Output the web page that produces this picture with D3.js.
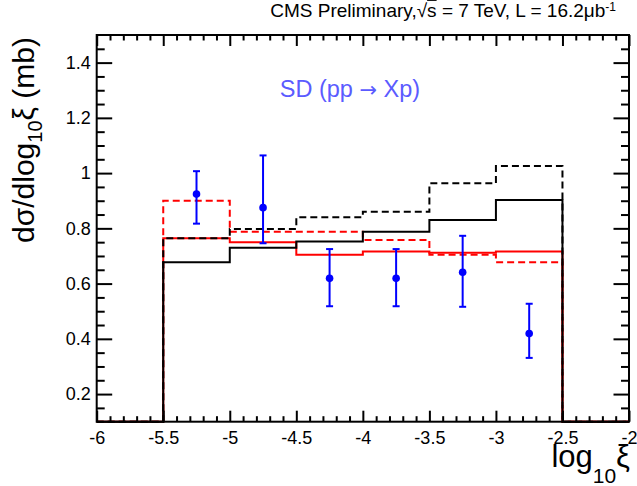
<!DOCTYPE html>
<html>
<head>
<meta charset="utf-8">
<script src="https://cdn.jsdelivr.net/npm/d3@7"></script>
<style>
  body { margin: 0; background: #fff; }
  svg text { font-family: "Liberation Sans", Arial, Helvetica, sans-serif; }
</style>
</head>
<body>
<div id="chart"></div>
<script>
// bins in log10(xi)
var binEdges = [-6, -5.5, -5, -4.5, -4, -3.5, -3, -2.5, -2];
// histogram contents per bin (outer bins empty)
var blackSolid  = [0, 0.677, 0.730, 0.752, 0.788, 0.830, 0.903, 0];
var blackDashed = [0, 0.764, 0.798, 0.840, 0.860, 0.963, 1.026, 0];
var redSolid    = [0, 0.764, 0.750, 0.704, 0.716, 0.712, 0.716, 0];
var redDashed   = [0, 0.900, 0.788, 0.788, 0.758, 0.704, 0.677, 0];
// data points
var dataX    = [-5.25, -4.75, -4.25, -3.75, -3.25, -2.75];
var dataY    = [0.924, 0.875, 0.619, 0.619, 0.641, 0.419];
var dataYlo  = [0.817, 0.746, 0.518, 0.518, 0.516, 0.331];
var dataYhi  = [1.007, 1.064, 0.725, 0.725, 0.773, 0.527];
// ticks
var xMajor = [-6, -5.5, -5, -4.5, -4, -3.5, -3, -2.5, -2];
var xMinor = d3.range(-60, -19, 1).map(function (d) { return d / 10; })
    .filter(function (d) { return Math.abs(d * 2 - Math.round(d * 2)) > 1e-6; });
var yMajor = [0.2, 0.4, 0.6, 0.8, 1, 1.2, 1.4];
var yMinor = d3.range(3, 30, 1).map(function (d) { return d / 20; })
    .filter(function (d) { return Math.abs(d * 5 - Math.round(d * 5)) > 1e-6; });

var W = 637, H = 486;
var m = { left: 96.7, right: 629, top: 35, bottom: 421.7 };

var svg = d3.select('#chart').append('svg')
    .attr('width', W).attr('height', H);

var x = d3.scaleLinear().domain([-6, -2]).range([m.left, m.right]);
var y = d3.scaleLinear().domain([0.1, 1.5]).range([m.bottom, m.top]).clamp(true);

var fmt = function (d) { return String(Math.round(d * 100) / 100); };

// histograms
function histPts(vals) {
    var pts = vals.map(function (v, i) { return [binEdges[i], v]; });
    pts.push([binEdges[binEdges.length - 1], vals[vals.length - 1]]);
    return pts;
}
var stepLine = d3.line()
    .x(function (d) { return x(d[0]); })
    .y(function (d) { return y(d[1]); })
    .curve(d3.curveStepAfter);

var hists = [
    { vals: redSolid, color: '#ff0000', dash: null },
    { vals: redDashed, color: '#ff0000', dash: '7,4' },
    { vals: blackSolid, color: '#000000', dash: null },
    { vals: blackDashed, color: '#000000', dash: '7,4' }
];
hists.forEach(function (h) {
    svg.append('path')
        .attr('d', stepLine(histPts(h.vals)))
        .attr('fill', 'none')
        .attr('stroke', h.color)
        .attr('stroke-width', 2)
        .attr('stroke-dasharray', h.dash);
});

// axes (ROOT style, ticks inward)
function styleAxis(g) {
    g.select('.domain').remove();
    g.selectAll('.tick line').attr('stroke', '#000').attr('stroke-width', 2);
    g.selectAll('.tick text').attr('fill', '#000').style('font-size', '18px');
}
svg.append('g').attr('transform', 'translate(0,' + m.bottom + ')')
    .call(d3.axisBottom(x).tickValues(xMajor).tickSize(-11).tickPadding(10).tickFormat(fmt))
    .call(styleAxis);
svg.append('g').attr('transform', 'translate(0,' + m.bottom + ')')
    .call(d3.axisBottom(x).tickValues(xMinor).tickSize(-5.5).tickFormat(''))
    .call(styleAxis);
svg.append('g').attr('transform', 'translate(0,' + m.top + ')')
    .call(d3.axisTop(x).tickValues(xMajor).tickSize(-11).tickFormat(''))
    .call(styleAxis);
svg.append('g').attr('transform', 'translate(0,' + m.top + ')')
    .call(d3.axisTop(x).tickValues(xMinor).tickSize(-5.5).tickFormat(''))
    .call(styleAxis);
svg.append('g').attr('transform', 'translate(' + m.left + ',0)')
    .call(d3.axisLeft(y).tickValues(yMajor).tickSize(-15.5).tickPadding(6).tickFormat(fmt))
    .call(styleAxis);
svg.append('g').attr('transform', 'translate(' + m.left + ',0)')
    .call(d3.axisLeft(y).tickValues(yMinor).tickSize(-8).tickFormat(''))
    .call(styleAxis);
svg.append('g').attr('transform', 'translate(' + m.right + ',0)')
    .call(d3.axisRight(y).tickValues(yMajor).tickSize(-15.5).tickFormat(''))
    .call(styleAxis);
svg.append('g').attr('transform', 'translate(' + m.right + ',0)')
    .call(d3.axisRight(y).tickValues(yMinor).tickSize(-8).tickFormat(''))
    .call(styleAxis);

svg.append('rect')
    .attr('x', m.left).attr('y', m.top)
    .attr('width', m.right - m.left).attr('height', m.bottom - m.top)
    .attr('fill', 'none').attr('stroke', '#000').attr('stroke-width', 2);

// data points with error bars
var pts = svg.append('g').selectAll('g.pt')
    .data(dataX.map(function (d, i) { return { x: d, y: dataY[i], lo: dataYlo[i], hi: dataYhi[i] }; }))
    .enter().append('g').attr('class', 'pt');
pts.append('line')
    .attr('x1', function (d) { return x(d.x); }).attr('x2', function (d) { return x(d.x); })
    .attr('y1', function (d) { return y(d.lo); }).attr('y2', function (d) { return y(d.hi); })
    .attr('stroke', '#0000ff').attr('stroke-width', 2);
['lo', 'hi'].forEach(function (k) {
    pts.append('line')
        .attr('x1', function (d) { return x(d.x) - 3.5; }).attr('x2', function (d) { return x(d.x) + 3.5; })
        .attr('y1', function (d) { return y(d[k]); }).attr('y2', function (d) { return y(d[k]); })
        .attr('stroke', '#0000ff').attr('stroke-width', 2);
});
pts.append('circle')
    .attr('cx', function (d) { return x(d.x); })
    .attr('cy', function (d) { return y(d.y); })
    .attr('r', 3.8)
    .attr('fill', '#0000ff');

// texts
var title = svg.append('text')
    .attr('x', 616).attr('y', 17)
    .attr('text-anchor', 'end')
    .style('font-size', '19px').attr('fill', '#000');
title.append('tspan').text('CMS Preliminary,\u221A');
title.append('tspan').style('text-decoration', 'overline').text('s');
title.append('tspan').text(' = 7 TeV, L = 16.2\u03BCb');
title.append('tspan').attr('dy', -6).style('font-size', '12px').text('-1');

var sd = svg.append('text')
    .attr('x', 350).attr('y', 97)
    .attr('text-anchor', 'middle')
    .style('font-size', '23.5px').attr('fill', '#5b5bff');
sd.append('tspan').text('SD (pp ');
sd.append('tspan').style('font-family', '"DejaVu Sans"').style('font-size', '21px').text('\u2192');
sd.append('tspan').text(' Xp)');

var ylab = svg.append('text')
    .attr('transform', 'translate(34,37) rotate(-90)')
    .attr('text-anchor', 'end')
    .style('font-size', '30px').attr('fill', '#000');
ylab.append('tspan').text('d\u03C3/dlog');
ylab.append('tspan').attr('dy', 8).style('font-size', '20px').text('10');
ylab.append('tspan').attr('dy', -8).text('\u03BE (mb)');

var xlab = svg.append('text')
    .attr('x', 630).attr('y', 467)
    .attr('text-anchor', 'end')
    .style('font-size', '31px').attr('fill', '#000');
xlab.append('tspan').text('log');
xlab.append('tspan').attr('dy', 16).style('font-size', '21px').text('10');
xlab.append('tspan').attr('dy', -16).text('\u03BE');
</script>
</body>
</html>
